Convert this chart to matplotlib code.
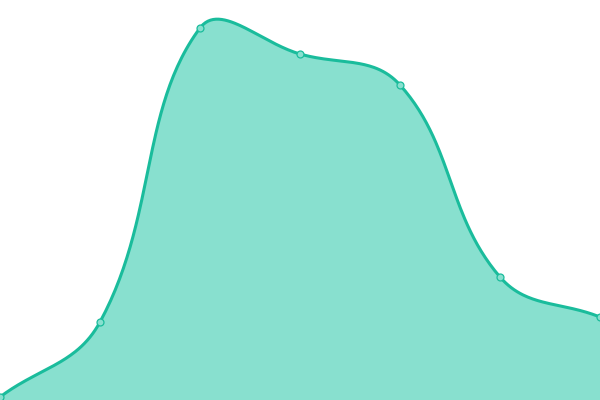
import numpy as np
import matplotlib
matplotlib.use("Agg")
import matplotlib.pyplot as plt

# values (x index, y value on a 0-400 scale)
x_vals = [0, 1, 2, 3, 4, 5, 6]
y_vals = [3, 78, 372, 346, 315, 123, 83]

line_color = "#1abc9c"
fill_color = "#88e0cf"
tension = 0.4
px_per_x = 100.0  # x unit width in pixels, used for spline distances


def spline_controls(xs, ys):
    # cardinal-style control points (like Chart.js splineCurve)
    pts = np.column_stack([np.array(xs, float) * px_per_x, np.array(ys, float)])
    n = len(pts)
    ctrl = []
    for i in range(n):
        p0 = pts[max(i - 1, 0)]
        p1 = pts[i]
        p2 = pts[min(i + 1, n - 1)]
        d01 = np.hypot(*(p1 - p0))
        d12 = np.hypot(*(p2 - p1))
        tot = d01 + d12
        s01 = d01 / tot if tot else 0
        s12 = d12 / tot if tot else 0
        fa = tension * s01
        fb = tension * s12
        prev = p1 - fa * (p2 - p0)
        nxt = p1 + fb * (p2 - p0)
        ctrl.append((prev, nxt))
    return pts, ctrl


pts, ctrl = spline_controls(x_vals, y_vals)
t = np.linspace(0, 1, 60)[:, None]
curve = []
for i in range(len(pts) - 1):
    a = pts[i]
    b = ctrl[i][1]
    c = ctrl[i + 1][0]
    d = pts[i + 1]
    seg = ((1 - t) ** 3) * a + 3 * ((1 - t) ** 2) * t * b + 3 * (1 - t) * t ** 2 * c + t ** 3 * d
    curve.append(seg if i == 0 else seg[1:])
curve = np.vstack(curve)
cx = curve[:, 0] / px_per_x
cy = curve[:, 1]

fig = plt.figure(figsize=(6, 4), dpi=100)
ax = fig.add_axes([0, 0, 1, 1])
ax.fill_between(cx, 0, cy, color=fill_color, linewidth=0)
ax.plot(cx, cy, color=line_color, linewidth=2.2, solid_capstyle="round")
ax.plot(x_vals, y_vals, linestyle="none", marker="o", markersize=5,
        markerfacecolor=fill_color, markeredgecolor=line_color, markeredgewidth=0.9)
ax.set_xlim(0, 6)
ax.set_ylim(0, 400)
ax.axis("off")
fig.savefig("out.png", dpi=100)
